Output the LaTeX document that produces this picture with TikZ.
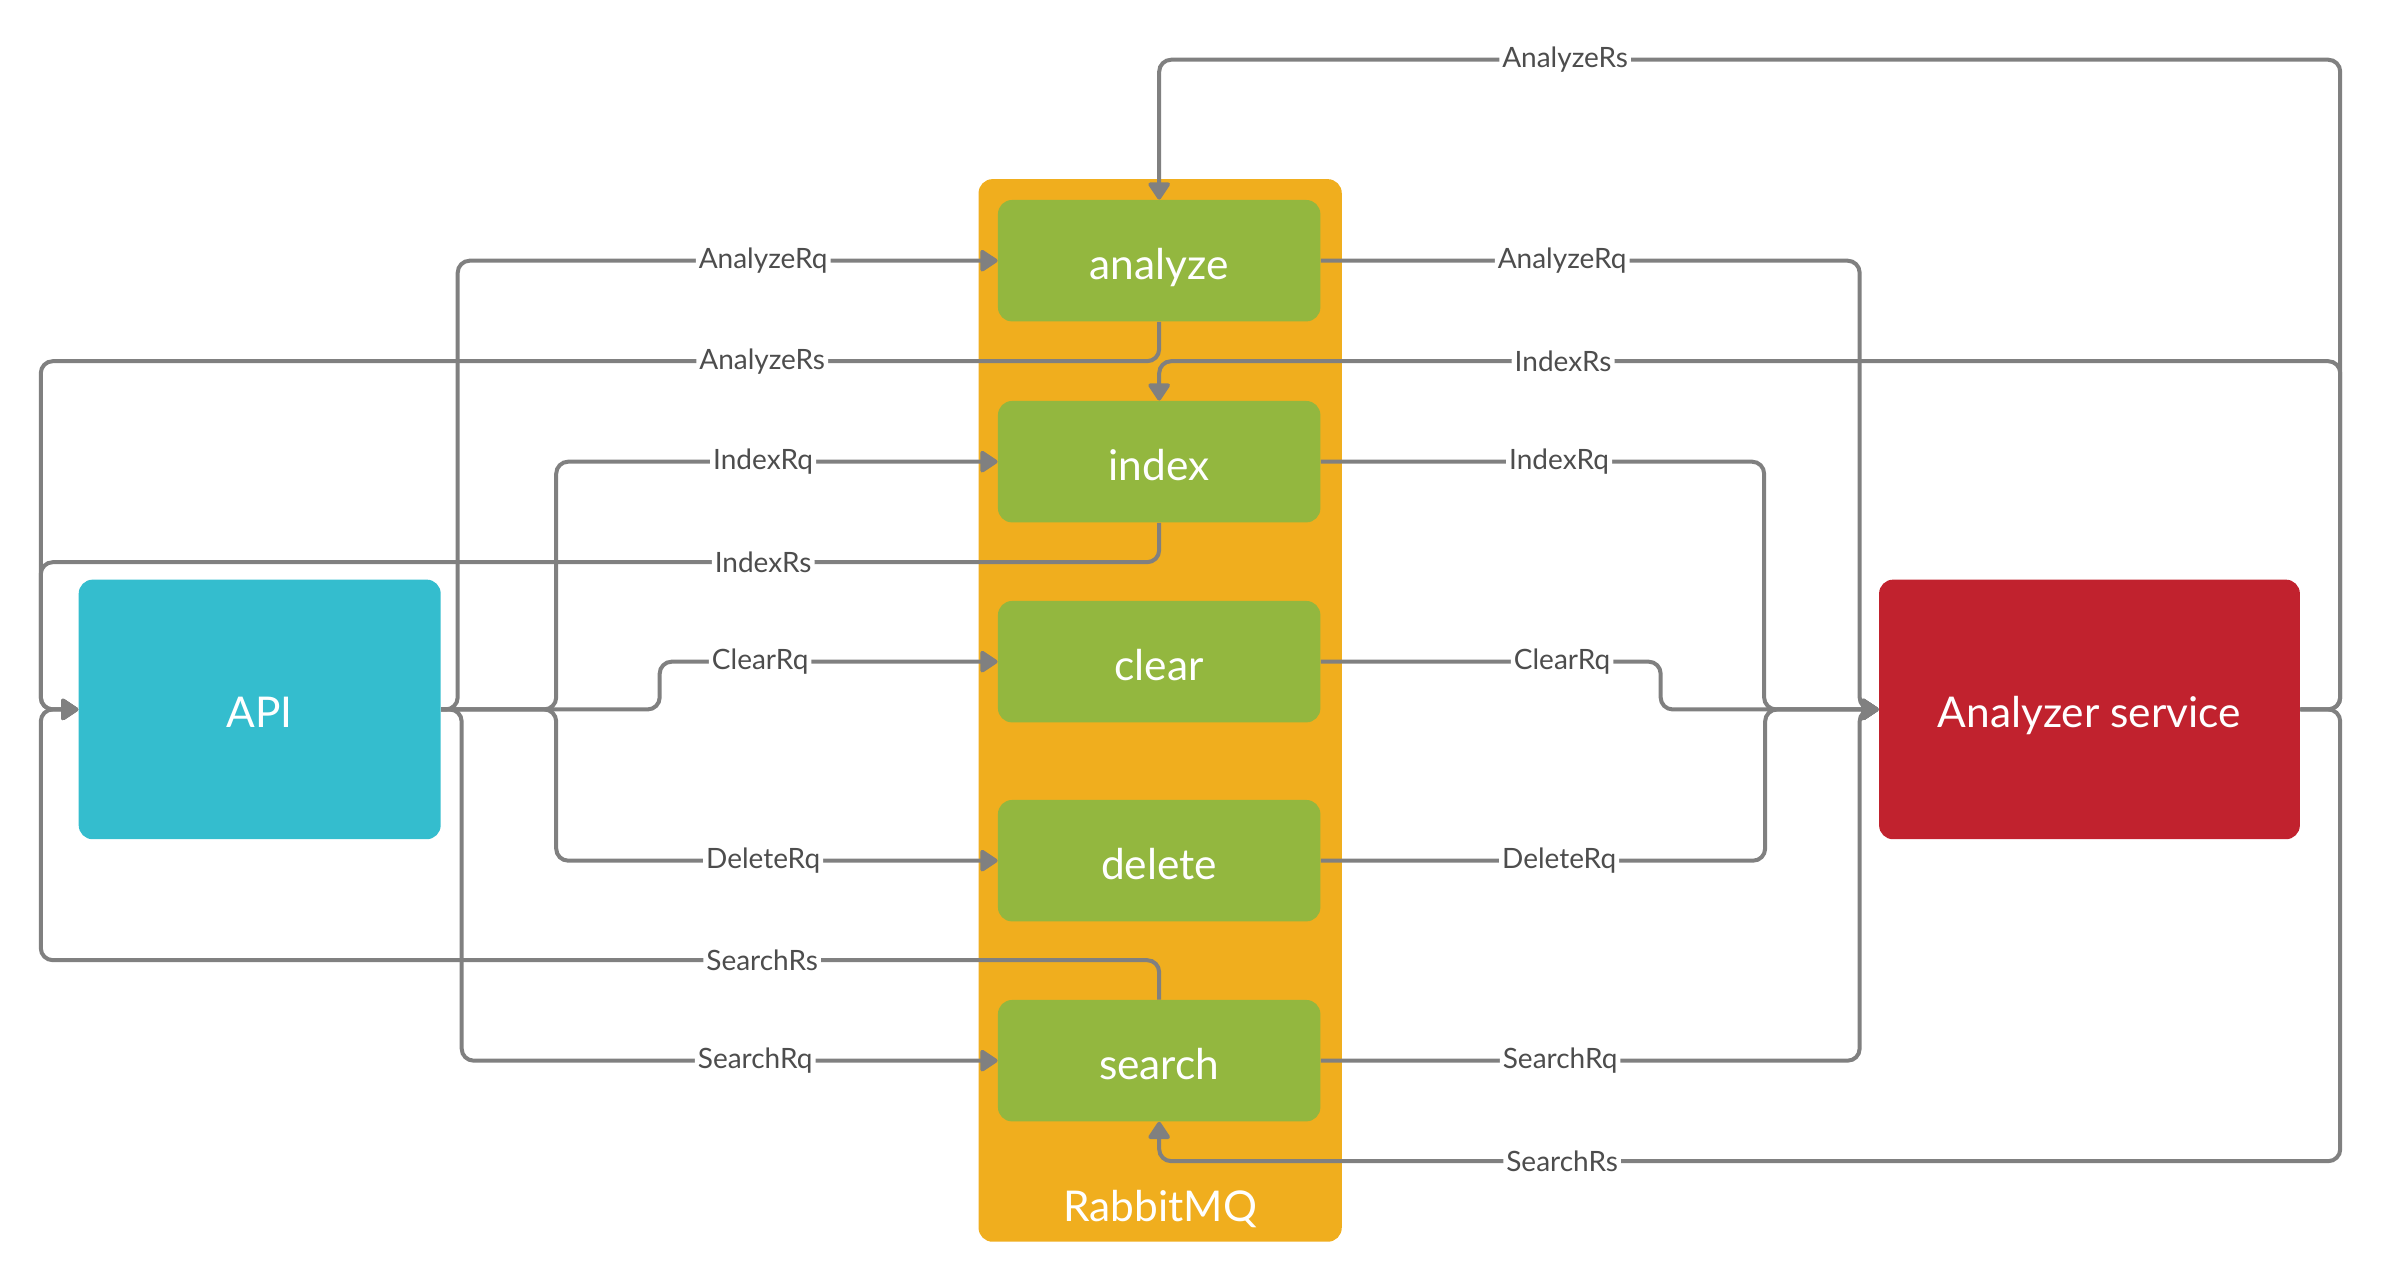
\documentclass[tikz,border=0pt]{standalone}
\usepackage{fontspec}
\setmainfont{Lato}
\usetikzlibrary{arrows.meta}
\definecolor{apiC}{HTML}{34BDCE}
\definecolor{anC}{HTML}{C1222E}
\definecolor{rmqC}{HTML}{F0AE1E}
\definecolor{qC}{HTML}{93B73F}
\definecolor{lnC}{HTML}{808080}
\definecolor{txC}{HTML}{4D4D4D}
\begin{document}
\begin{tikzpicture}[x=0.4975pt,y=-0.4975pt,
 box/.style={rounded corners=7pt, inner sep=0pt, text=white, text height=18.5pt, text depth=0pt, font=\fontsize{21.2}{25}\selectfont},
 queue/.style={box, fill=qC, minimum width=161.2pt, minimum height=60.7pt},
 conn/.style={draw=lnC, line width=2pt, rounded corners=6pt},
 arr/.style={conn, -{Triangle[length=9.5pt,width=12pt,round]}},
 lbl/.style={fill=white, text=txC, font=\fontsize{14}{16}\selectfont, inner sep=1.5pt}]
\useasboundingbox (0,0) rectangle (2394,1287.4);
\node[box, fill=rmqC, minimum width=181.6pt, minimum height=531.3pt] (rmq) at (1166,714) {};
\node[text=white, font=\fontsize{21.2}{25}\selectfont, inner sep=0pt] (rmqlbl) at (1166,1215) {RabbitMQ};
\node[queue] (an) at (1165,262) {analyze};
\node[queue] (ix) at (1165,464) {index};
\node[queue] (cl) at (1165,665) {clear};
\node[queue] (de) at (1165,865) {delete};
\node[queue] (se) at (1165,1066) {search};
\node[box, fill=apiC, minimum width=181pt, minimum height=129.8pt] (api) at (261,713) {API};
\node[box, fill=anC, minimum width=210.4pt, minimum height=129.8pt] (as) at (2100,713) {Analyzer service};
% left requests
\draw[arr] (api.east) -- (460,713) -- (460,262) -- (767,262) node[lbl]{AnalyzeRq} -- (an.west);
\draw[arr] (api.east) -- (559,713) -- (559,464) -- (767,464) node[lbl]{IndexRq} -- (ix.west);
\draw[arr] (api.east) -- (663,713) -- (663,665) -- (764,665) node[lbl]{ClearRq} -- (cl.west);
\draw[arr] (api.east) -- (559,713) -- (559,865) -- (767,865) node[lbl]{DeleteRq} -- (de.west);
\draw[arr] (api.east) -- (464,713) -- (464,1066) -- (759,1066) node[lbl]{SearchRq} -- (se.west);
% left responses
\draw[arr] (an.south) -- (1165,363) -- (766,363) node[lbl]{AnalyzeRs} -- (41,363) -- (41,713) -- (api.west);
\draw[arr] (ix.south) -- (1165,565) -- (767,565) node[lbl]{IndexRs} -- (41,565) -- (41,713) -- (api.west);
\draw[arr] (se.north) -- (1165,965) -- (766,965) node[lbl]{SearchRs} -- (41,965) -- (41,713) -- (api.west);
% right requests
\draw[arr] (an.east) -- (1570,262) node[lbl]{AnalyzeRq} -- (1869,262) -- (1869,713) -- (as.west);
\draw[arr] (ix.east) -- (1567,464) node[lbl]{IndexRq} -- (1773,464) -- (1773,713) -- (as.west);
\draw[arr] (cl.east) -- (1570,665) node[lbl]{ClearRq} -- (1669,665) -- (1669,713) -- (as.west);
\draw[arr] (de.east) -- (1567,865) node[lbl]{DeleteRq} -- (1774,865) -- (1774,713) -- (as.west);
\draw[arr] (se.east) -- (1568,1066) node[lbl]{SearchRq} -- (1869,1066) -- (1869,713) -- (as.west);
% right responses
\draw[arr] (as.east) -- (2352,713) -- (2352,60) -- (1573,60) node[lbl]{AnalyzeRs} -- (1165,60) -- (an.north);
\draw[arr] (as.east) -- (2352,713) -- (2352,363) -- (1571,363) node[lbl]{IndexRs} -- (1165,363) -- (ix.north);
\draw[arr] (as.east) -- (2352,713) -- (2352,1167) -- (1570,1167) node[lbl]{SearchRs} -- (1165,1167) -- (se.south);
\end{tikzpicture}
\end{document}
